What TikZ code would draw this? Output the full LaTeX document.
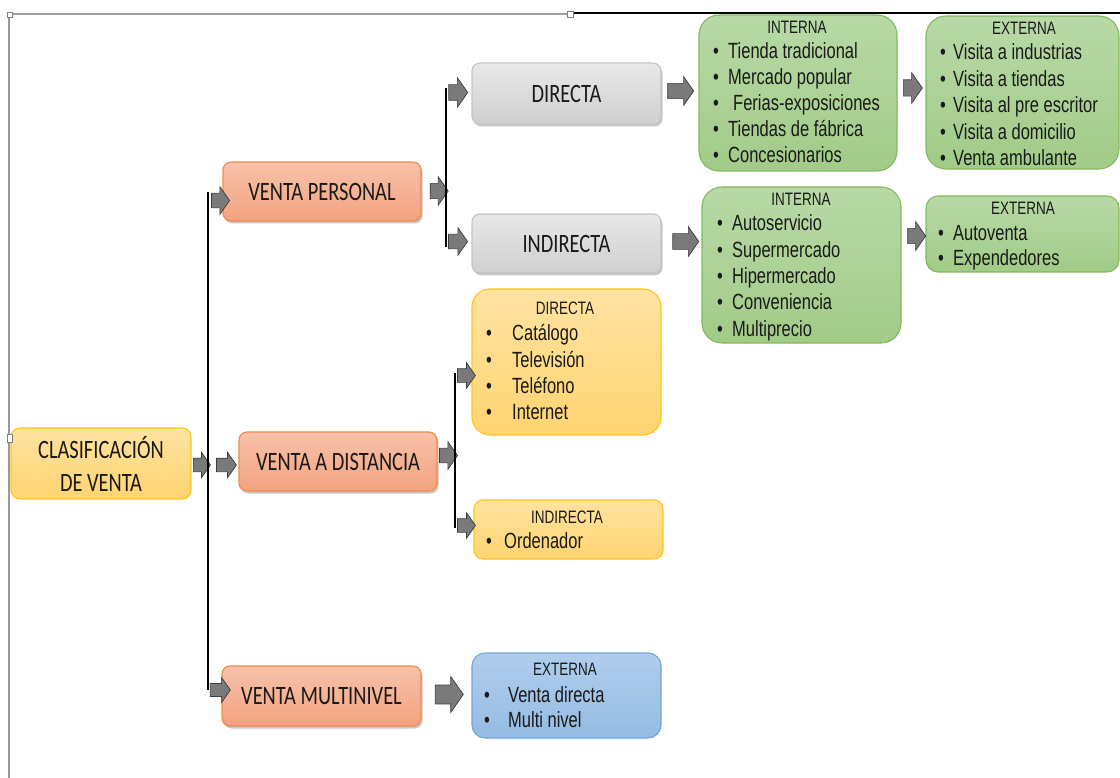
\documentclass[tikz,border=0pt]{standalone}
\usepackage{fontspec}
\usetikzlibrary{shapes.arrows,shadows}
\newfontfamily\listfont[FakeStretch=0.75]{Liberation Sans}
\newfontfamily\titlefont[FakeStretch=0.77]{Carlito}
\definecolor{txt}{HTML}{1A1A1A}
\definecolor{yTop}{HTML}{FFE3A2}
\definecolor{yBot}{HTML}{FFD470}
\definecolor{yLine}{HTML}{FFC41A}
\definecolor{sTop}{HTML}{F7C2AA}
\definecolor{sBot}{HTML}{F3A27F}
\definecolor{sLine}{HTML}{EF8A4C}
\definecolor{gTop}{HTML}{E8E8E8}
\definecolor{gBot}{HTML}{CFCFCF}
\definecolor{gLine}{HTML}{C4C4C4}
\definecolor{grTop}{HTML}{B8D9A6}
\definecolor{grBot}{HTML}{A1CB87}
\definecolor{grLine}{HTML}{80BA5C}
\definecolor{bTop}{HTML}{B0CDEC}
\definecolor{bBot}{HTML}{95BBE3}
\definecolor{bLine}{HTML}{6FA5DA}
\definecolor{arrFill}{HTML}{7A7A7A}
\definecolor{arrLine}{HTML}{3C3C3C}
\newcommand\myitems[6]{%
  \foreach \t [count=\i] in {#6} {\node[itemtxt] (#1-\i) at (#2,{#4+#5*(\i-1)}) {\makebox[#3pt][l]{\textbullet}\t};}}
\newcommand\blockarrow[5]{\node[barrow, minimum height=#4, inner ysep={0.26*#5}, single arrow head extend={0.24*#5}] (#1) at (#2,#3) {};}
\begin{document}
\begin{tikzpicture}[x=1pt,y=-1pt,
  box/.style={draw, line width=1.1pt, rounded corners=8pt, inner sep=0pt, text=txt},
  titlebox/.style={box, font=\titlefont\fontsize{26.5}{33}\selectfont, align=center},
  ybox/.style={top color=yTop, bottom color=yBot, draw=yLine},
  sbox/.style={top color=sTop, bottom color=sBot, draw=sLine,
    drop shadow={shadow xshift=1.5pt, shadow yshift=-2.5pt, fill=black, opacity=0.22}},
  gbox/.style={top color=gTop, bottom color=gBot, draw=gLine,
    drop shadow={shadow xshift=1.5pt, shadow yshift=-2.5pt, fill=black, opacity=0.22}},
  grbox/.style={top color=grTop, bottom color=grBot, draw=grLine},
  bbox/.style={top color=bTop, bottom color=bBot, draw=bLine},
  head/.style={anchor=base, inner sep=0pt, text=txt, font=\listfont\fontsize{18}{20}\selectfont},
  itemtxt/.style={anchor=base west, inner sep=0pt, text=txt, font=\listfont\fontsize{22}{26}\selectfont},
  barrow/.style={single arrow, fill=arrFill, draw=arrLine, line width=0.7pt, inner xsep=0pt,
    single arrow tip angle=110, single arrow head indent=0pt},
  conn/.style={draw=black, line width=2.2pt}
]
\useasboundingbox (0,0) rectangle (1120,778);

% main boxes
\node[titlebox, ybox, minimum width=180, minimum height=71, rounded corners=9pt] (clas) at (101,463.5) {CLASIFICACIÓN\\DE VENTA};
\node[titlebox, sbox, minimum width=198, minimum height=59] (vp) at (322,191.5) {VENTA PERSONAL};
\node[titlebox, sbox, minimum width=198, minimum height=59] (vd) at (338,461.5) {VENTA A DISTANCIA};
\node[titlebox, sbox, minimum width=199, minimum height=60] (vm) at (321.5,696) {VENTA MULTINIVEL};
\node[titlebox, gbox, minimum width=189, minimum height=61] (gd) at (566.5,93.5) {DIRECTA};
\node[titlebox, gbox, minimum width=189, minimum height=59] (gi) at (566.5,243.5) {INDIRECTA};

% list boxes
\node[box, grbox, minimum width=198, minimum height=156, rounded corners=20pt] (int1) at (798,93) {};
\node[box, grbox, minimum width=193, minimum height=153, rounded corners=20pt] (ext1) at (1022.5,92.5) {};
\node[box, grbox, minimum width=199, minimum height=156, rounded corners=20pt] (int2) at (801.5,265) {};
\node[box, grbox, minimum width=193, minimum height=76, rounded corners=12pt] (ext2) at (1022.5,234) {};
\node[box, ybox, minimum width=189, minimum height=146, rounded corners=18pt] (yd) at (566.5,362) {};
\node[box, ybox, minimum width=189, minimum height=59, rounded corners=9pt] (yi) at (568.5,529.5) {};
\node[box, bbox, minimum width=189, minimum height=85, rounded corners=13pt] (bx) at (566.5,695.5) {};

% headers
\node[head] (int1-h) at (797,34) {INTERNA};
\node[head] (ext1-h) at (1024,35) {EXTERNA};
\node[head] (int2-h) at (801,206) {INTERNA};
\node[head] (ext2-h) at (1023,215) {EXTERNA};
\node[head] (yd-h) at (565,315) {DIRECTA};
\node[head] (yi-h) at (567,523) {INDIRECTA};
\node[head] (bx-h) at (565,675) {EXTERNA};

% items
\myitems{int1}{713}{15}{59}{26}{Tienda tradicional, Mercado popular, {\hspace{5pt}Ferias-exposiciones}, Tiendas de fábrica, Concesionarios}
\myitems{ext1}{940}{13}{60}{26.5}{Visita a industrias, Visita a tiendas, Visita al pre escritor, Visita a domicilio, Venta ambulante}
\myitems{int2}{717}{15}{231}{26.25}{Autoservicio, Supermercado, Hipermercado, Conveniencia, Multiprecio}
\myitems{ext2}{938}{15}{241}{25}{Autoventa, Expendedores}
\myitems{yd}{486}{26}{341}{26}{Catálogo, Televisión, Teléfono, Internet}
\myitems{yi}{486}{18}{548}{26}{Ordenador}
\myitems{bx}{484}{24}{702}{25}{Venta directa, Multi nivel}

% block arrows
\blockarrow{a0}{199.5}{465}{17}{25}
\blockarrow{a1}{218}{200.5}{18}{27}
\blockarrow{a2}{224}{465}{20}{25}
\blockarrow{a3}{218}{690}{20}{24}
\blockarrow{a4}{436.5}{191}{18}{28}
\blockarrow{b1}{455.5}{92.5}{19}{29}
\blockarrow{b2}{455.5}{241.5}{19}{27}
\blockarrow{a5}{678}{91}{26}{28}
\blockarrow{a6}{683}{241.5}{26}{29}
\blockarrow{a7}{910}{88}{19}{30}
\blockarrow{a8}{914}{236}{18}{28}
\blockarrow{a9}{446}{455.5}{18}{27}
\blockarrow{a10}{464}{375.5}{18}{25}
\blockarrow{a11}{464}{525.5}{18}{25}
\blockarrow{a12}{446}{694.5}{28}{35}

% connector lines
\coordinate (v1top) at (208,192);
\coordinate (v1bot) at (208,690);
\coordinate (v2top) at (446,88);
\coordinate (v2bot) at (446,247);
\coordinate (v3top) at (455,373);
\coordinate (v3bot) at (455,528);
\draw[conn] (v1top) -- (v1bot);
\draw[conn] (v2top) -- (v2bot);
\draw[conn] (v3top) -- (v3bot);

% frame
\draw[gray!75, line width=1.8pt] (9,14) -- (570,14);
\draw[black, line width=1.3pt] (570,13) -- (1120,13);
\draw[gray!80, line width=1.2pt] (9,14) -- (9,778);
\draw[gray, fill=white, line width=0.6pt] (567,11) rectangle (573,17);
\draw[gray, fill=white, line width=0.6pt] (7,12) rectangle (12,17);
\draw[gray, fill=white, line width=0.6pt] (7,434) rectangle (12,442);
\end{tikzpicture}
\end{document}
